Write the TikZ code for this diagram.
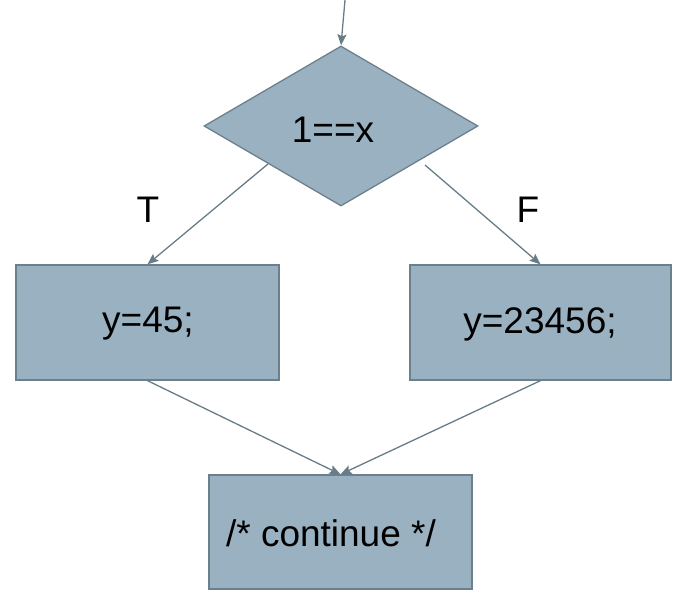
\documentclass[tikz,border=0pt]{standalone}
\usepackage{fontspec}
\setmainfont{Liberation Sans}
\usetikzlibrary{shapes.geometric,arrows.meta,calc}

\definecolor{boxfill}{RGB}{154,177,193}
\definecolor{boxline}{RGB}{108,128,140}
\definecolor{wire}{RGB}{104,124,136}

\tikzset{
  lbl/.style={font=\fontsize{37}{44}\selectfont, text=black},
  stepbox/.style={draw=boxline, fill=boxfill, line width=1.3pt, inner sep=0pt},
  decision/.style={diamond, draw=boxline, fill=boxfill, line width=1.3pt,
                   inner sep=0pt, minimum width=274pt, minimum height=160pt},
  flow/.style={draw=wire, line width=1.3pt, -{Stealth[length=11pt,width=9pt,inset=2pt]}}
}

\begin{document}
\begin{tikzpicture}[x=1pt,y=-1pt]
  \useasboundingbox (0,0) rectangle (674,591);

  % decision
  \node[decision] (cond) at (341,126) {};
  \node[lbl] (condtxt) at (333,130) {1==x};

  % branch statements
  \node[stepbox, minimum width=263pt, minimum height=115pt] (yes) at (147.5,322.5) {};
  \node[lbl] (yestxt) at (148,324) {y=45;};
  \node[stepbox, minimum width=261pt, minimum height=115pt] (no) at (540.5,322.5) {};
  \node[lbl] (notxt) at (540,324) {y=23456;};

  % join point
  \node[stepbox, minimum width=263pt, minimum height=114pt] (cont) at (340.5,532) {};
  \node[lbl] (conttxt) at (331,533) {/* continue */};

  % branch labels
  \node[lbl] (tl) at (148,210) {T};
  \node[lbl] (fl) at (528,210) {F};

  % connectors
  \coordinate (entry) at (345,0);
  \coordinate (tstart) at ($(cond.west)!0.47!(cond.south)$);
  \coordinate (fstart) at (425,165);

  \draw[flow] (entry) -- (cond.north);
  \draw[flow] (tstart) -- (yes.north);
  \draw[flow] (fstart) -- (no.north);
  \draw[flow] (yes.south) -- (cont.north);
  \draw[flow] (no.south) -- (cont.north);
\end{tikzpicture}
\end{document}
